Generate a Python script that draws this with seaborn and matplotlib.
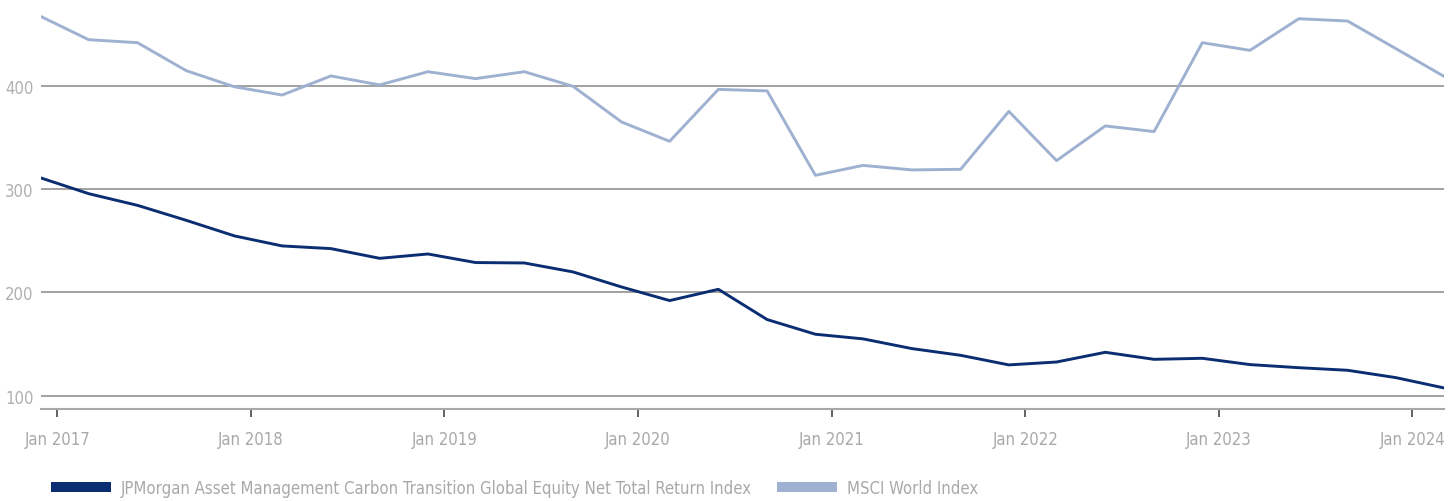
import pandas as pd
import seaborn as sns
import matplotlib.pyplot as plt
import matplotlib.dates as mdates
from matplotlib.patches import Patch

# quarterly values
dates = pd.date_range('2016-12-01', '2024-03-01', freq='3MS')
jpm = [310.7, 295.5, 284.2, 269.7, 254.6, 244.9, 242.3, 232.9, 237.1, 228.8,
       228.4, 219.7, 205.2, 192.0, 202.9, 173.6, 159.4, 154.9, 145.5, 139.0,
       129.7, 132.5, 141.9, 135.1, 136.1, 130.0, 127.0, 124.5, 117.4, 107.4]
msci = [467.0, 444.6, 441.7, 414.6, 399.0, 391.0, 409.5, 400.8, 413.6, 406.9,
        413.6, 399.4, 365.0, 346.2, 396.5, 395.0, 313.3, 322.9, 318.5, 319.1,
        375.2, 327.5, 361.1, 355.6, 441.7, 434.3, 464.9, 462.7, 436.0, 409.1]
names = ['JPMorgan Asset Management Carbon Transition Global Equity Net Total Return Index',
         'MSCI World Index']
colors = ['#0b2d72', '#9fb1d1']

df = pd.DataFrame({'date': list(dates) * 2,
                   'value': jpm + msci,
                   'series': [names[0]] * len(jpm) + [names[1]] * len(msci)})

sns.set_style('white')
plt.rcParams['font.family'] = ['DejaVu Sans']
plt.rcParams['font.stretch'] = 'condensed'

fig = plt.figure(figsize=(14.48, 5.02), dpi=100)
ax = fig.add_axes([41 / 1448, 92 / 502, 1403 / 1448, 410 / 502])

for v in [100, 200, 300, 400]:
    ax.axhline(v, color='#9a9a9a', lw=1.3, zorder=1)

sns.lineplot(data=df, x='date', y='value', hue='series', hue_order=names,
             palette=colors, linewidth=2.1, legend=False, ax=ax, zorder=3)

ax.set_xlim(dates[0], dates[-1])
ax.set_ylim(87, 484)
ax.set_yticks([100, 200, 300, 400])
ax.set_xlabel('')
ax.set_ylabel('')
for s in ['top', 'right', 'left']:
    ax.spines[s].set_visible(False)
ax.spines['bottom'].set_color('#a8a8a8')
ax.spines['bottom'].set_linewidth(1.5)

ax.xaxis.set_major_locator(mdates.YearLocator())
ax.xaxis.set_major_formatter(mdates.DateFormatter('%b %Y'))
ax.tick_params(axis='x', bottom=True, direction='out', length=6, width=1.3,
               color='#555555', labelcolor='#a9a9a9', labelsize=12, pad=9)
ax.tick_params(axis='y', left=False, labelcolor='#b0b0b0', labelsize=12, pad=2)

handles = [Patch(facecolor=c, edgecolor='none') for c in colors]
fig.legend(handles, names, loc='lower left', bbox_to_anchor=(0.025, -0.022),
           ncol=2, frameon=False, fontsize=12, labelcolor='#a9a9a9',
           handlelength=3.6, handleheight=0.55, handletextpad=0.6, columnspacing=1.5)

fig.savefig('out.png', dpi=100)
